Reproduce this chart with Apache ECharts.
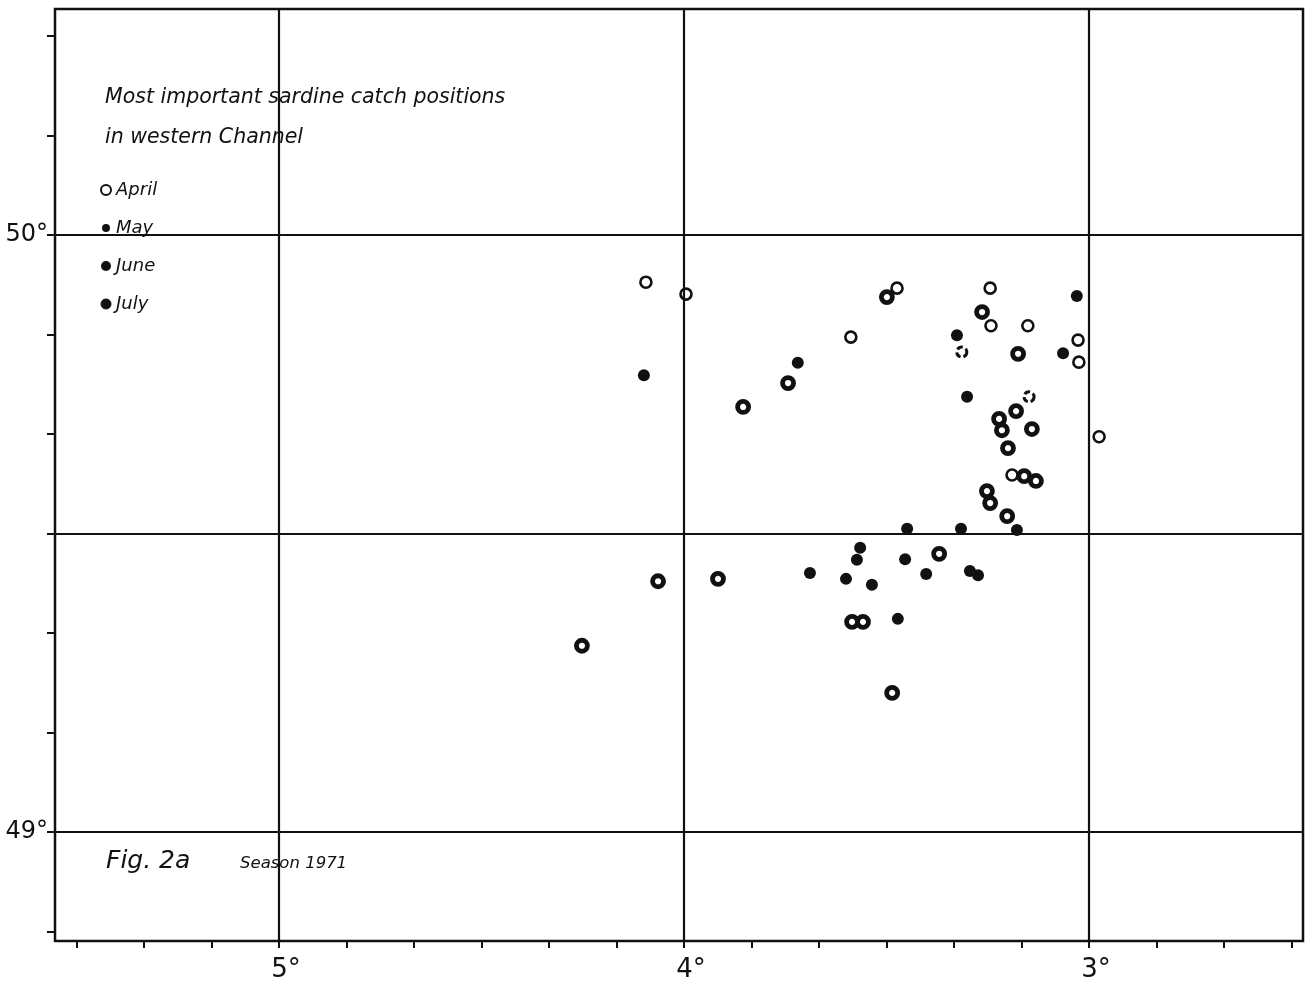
<!DOCTYPE html>
<html>
<head>
<meta charset="utf-8">
<script src="https://cdn.jsdelivr.net/npm/echarts@6/dist/echarts.min.js"></script>
<style>
html,body{margin:0;padding:0;background:#fff;}
#chart{width:1309px;height:989px;}
</style>
</head>
<body>
<div id="chart"></div>
<script>
// Longitude in degrees West, latitude in degrees North
const aprilLon = [4.094, 3.995, 3.474, 3.588, 3.244, 3.242, 3.151, 3.027, 3.025, 2.975, 3.190];
const aprilLat = [49.921, 49.901, 49.911, 49.829, 49.911, 49.848, 49.848, 49.824, 49.787, 49.662, 49.598];

const mayLon = [3.314, 3.148];
const mayLat = [49.804, 49.729];

const juneLon = [4.099, 3.719, 3.326, 3.030, 3.064, 3.301, 3.449, 3.316, 3.178, 3.454, 3.402, 3.294, 3.274, 3.565, 3.573, 3.689, 3.600, 3.536, 3.472];
const juneLat = [49.765, 49.786, 49.832, 49.898, 49.802, 49.729, 49.508, 49.508, 49.506, 49.457, 49.432, 49.437, 49.430, 49.476, 49.456, 49.434, 49.424, 49.414, 49.357];

const julyLon = [3.854, 3.743, 3.499, 3.264, 3.175, 3.180, 3.222, 3.215, 3.141, 3.200, 3.160, 3.131, 3.252, 3.244, 3.202, 3.370, 4.064, 3.916, 3.585, 3.558, 4.252, 3.486];
const julyLat = [49.712, 49.752, 49.896, 49.871, 49.801, 49.705, 49.692, 49.673, 49.675, 49.643, 49.596, 49.588, 49.571, 49.551, 49.529, 49.466, 49.420, 49.424, 49.352, 49.352, 49.312, 49.233];

const monthNames = ['April', 'May', 'June', 'July'];
const xLabelValues = [3, 4, 5];
const xLabelTexts = ['3°', '4°', '5°'];
const yLabelValues = [49, 50];
const yLabelTexts = ['49°', '50°'];
const xGridLines = [3, 4, 5];
const yGridLines = [49, 49.5, 50];
const titleText = 'Most important sardine catch positions\nin western Channel';
const figText = 'Fig. 2a';
const seasonText = 'Season 1971';

function pairs(a, b) { return a.map((v, i) => [v, b[i]]); }
function tickList(from, to, stepMin) {
  const out = [];
  for (let m = Math.round(from * 60); m <= Math.round(to * 60); m += stepMin) out.push(m / 60);
  return out;
}
const xTicks = tickList(2.5, 5.5, 10);
const yTicks = tickList(48 + 50 / 60, 50 + 20 / 60, 10);

const INK = '#111';
const FONT = 'DejaVu Sans';

const chart = echarts.init(document.getElementById('chart'), null, { renderer: 'canvas' });
chart.setOption({
  animation: false,
  backgroundColor: '#fff',
  title: [
    { text: titleText, left: 105, top: 78, padding: 0,
      textStyle: { fontFamily: FONT, fontStyle: 'italic', fontWeight: 'normal', fontSize: 20.5, lineHeight: 40, color: INK } },
    { text: figText, left: 106, top: 849, padding: 0,
      textStyle: { fontFamily: FONT, fontStyle: 'italic', fontWeight: 'normal', fontSize: 25, color: INK } },
    { text: seasonText, left: 240, top: 855, padding: 0,
      textStyle: { fontFamily: FONT, fontStyle: 'italic', fontWeight: 'normal', fontSize: 16.5, color: INK } }
  ],
  legend: {
    orient: 'vertical', left: 95, top: 176, padding: 5,
    itemWidth: 10, itemHeight: 10, itemGap: 20,
    textStyle: { fontFamily: FONT, fontStyle: 'italic', fontSize: 18, color: INK },
    data: [
      { name: monthNames[0], icon: 'circle', itemStyle: { color: '#fff', borderColor: INK, borderWidth: 2 } },
      { name: monthNames[1], icon: 'circle', itemStyle: { color: INK, borderColor: '#fff', borderWidth: 2, borderType: 'solid' } },
      { name: monthNames[2], icon: 'circle', itemStyle: { color: INK, borderWidth: 0 } },
      { name: monthNames[3], icon: 'circle', itemStyle: { color: INK, borderColor: INK, borderWidth: 1 } }
    ]
  },
  grid: { left: 55, top: 9, width: 1248, height: 932, show: true, borderColor: INK, borderWidth: 2.5, backgroundColor: '#fff' },
  xAxis: {
    type: 'value', inverse: true, min: 2.4716, max: 5.553,
    axisLine: { show: false },
    splitLine: { show: false },
    axisTick: { show: true, inside: false, length: 7, customValues: xTicks, lineStyle: { color: INK, width: 2 } },
    axisLabel: {
      customValues: xLabelValues, margin: 16, padding: [0, 0, 0, 14],
      formatter: v => xLabelTexts[xLabelValues.indexOf(Math.round(v))] || '',
      fontFamily: FONT, fontSize: 26, color: INK
    }
  },
  yAxis: {
    type: 'value', min: 48.8174, max: 50.3786,
    axisLine: { show: false },
    splitLine: { show: false },
    axisTick: { show: true, inside: false, length: 8, customValues: yTicks, lineStyle: { color: INK, width: 2 } },
    axisLabel: {
      customValues: yLabelValues, margin: 7,
      formatter: v => yLabelTexts[yLabelValues.indexOf(Math.round(v))] || '',
      fontFamily: FONT, fontSize: 24, color: INK
    }
  },
  series: [
    { name: 'grid', type: 'scatter', data: [], z: 1, silent: true,
      markLine: { silent: true, symbol: 'none', label: { show: false },
        lineStyle: { color: INK, width: 2.2, type: 'solid' },
        data: xGridLines.map(v => ({ xAxis: v })).concat(yGridLines.map(v => ({ yAxis: v }))) } },
    { name: monthNames[0], type: 'scatter', z: 3, symbol: 'circle', symbolSize: 11,
      itemStyle: { color: '#fff', borderColor: INK, borderWidth: 2.6, opacity: 1 },
      data: pairs(aprilLon, aprilLat) },
    { name: monthNames[1], type: 'scatter', z: 3, symbol: 'circle', symbolSize: 10,
      itemStyle: { color: '#fff', borderColor: INK, borderWidth: 3, borderType: [6, 3], opacity: 1 },
      data: pairs(mayLon, mayLat) },
    { name: monthNames[2], type: 'scatter', z: 3, symbol: 'circle', symbolSize: 12,
      itemStyle: { color: INK, opacity: 1 },
      data: pairs(juneLon, juneLat) },
    { name: monthNames[3], type: 'scatter', z: 3, symbol: 'circle', symbolSize: 11,
      itemStyle: { color: '#fff', borderColor: INK, borderWidth: 4.8, opacity: 1 },
      data: pairs(julyLon, julyLat) }
  ]
});
</script>
</body>
</html>
